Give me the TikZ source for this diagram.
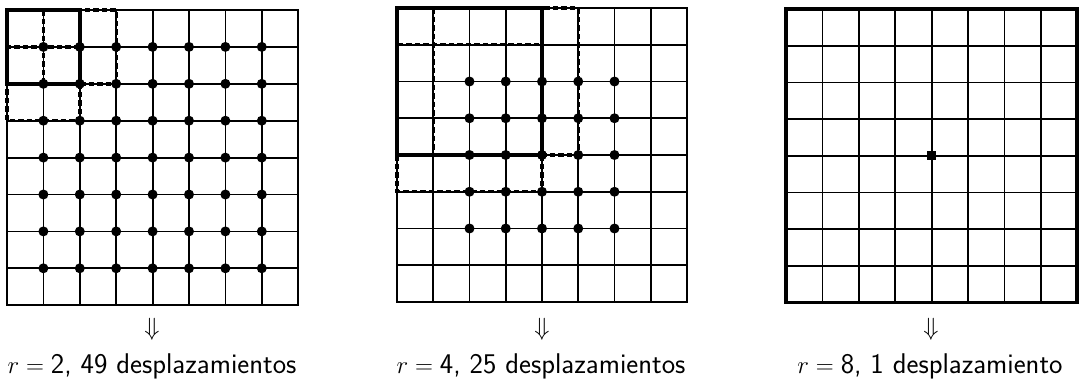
\documentclass[tikz,border=0pt]{standalone}
\usepackage{fontspec}
\tikzset{
  gridline/.style={line width=1.8pt, black},
  winsolid/.style={line width=3.4pt, black, line cap=square},
  windash/.style={line width=3.4pt, black, dash pattern=on 5.5pt off 3pt},
  outline/.style={line width=3.6pt, black, line cap=square},
  dotmark/.style={fill=black},
  lab/.style={font=\fontsize{28.5}{32}\selectfont\sffamily, anchor=base, inner sep=0pt},
  arr/.style={font=\fontsize{32}{34}\selectfont, inner sep=0pt}
}
\begin{document}
\begin{tikzpicture}[x=1pt,y=-1pt]
\useasboundingbox (0,0) rectangle (1081,380);
\fill[white] (0,0) rectangle (1081,380);
% ---------- grid 1 : r = 2 ----------
\begin{scope}[shift={(7,10)}, x=36.4pt, y=-36.9pt]
  \foreach \i in {0,...,8} {
    \draw[gridline] (\i,0) -- (\i,8);
    \draw[gridline] (0,\i) -- (8,\i);
  }
  \draw[windash] (1,0) rectangle (3,2);
  \draw[windash] (0,1) rectangle (2,3);
  \draw[winsolid] (0,0) rectangle (2,2);
  \draw[line width=2pt] (0,0) rectangle (8,8);
  \foreach \i in {1,...,7} \foreach \j in {1,...,7}
    \fill[dotmark] (\i,\j) circle (5pt);
\end{scope}
% ---------- grid 2 : r = 4 ----------
\begin{scope}[shift={(397,8)}, x=36.25pt, y=-36.75pt]
  \foreach \i in {0,...,8} {
    \draw[gridline] (\i,0) -- (\i,8);
    \draw[gridline] (0,\i) -- (8,\i);
  }
  \draw[windash] (1,0) rectangle (5,4);
  \draw[windash] (0,1) rectangle (4,5);
  \draw[winsolid] (0,0) rectangle (4,4);
  \draw[line width=2pt] (0,0) rectangle (8,8);
  \foreach \i in {2,...,6} \foreach \j in {2,...,6}
    \fill[dotmark] (\i,\j) circle (5pt);
\end{scope}
% ---------- grid 3 : r = 8 ----------
\begin{scope}[shift={(786,9)}, x=36.4pt, y=-36.7pt]
  \foreach \i in {1,...,7} {
    \draw[gridline] (\i,0) -- (\i,8);
    \draw[gridline] (0,\i) -- (8,\i);
  }
  \draw[outline] (0,0) rectangle (8,8);
  \fill[dotmark] (4,4) ++(-4.5pt,-4.5pt) rectangle ++(9pt,9pt);
\end{scope}
% ---------- arrows and labels ----------
\node[arr] (a1) at (152,329) {$\Downarrow$};
\node[arr] (a2) at (542,329) {$\Downarrow$};
\node[arr] (a3) at (931,329) {$\Downarrow$};
\node[lab] (l1) at (152,373) {$r={}$2, 49 desplazamientos};
\node[lab] (l2) at (541,373) {$r={}$4, 25 desplazamientos};
\node[lab] (l3) at (930,373) {$r={}$8, 1 desplazamiento};
\end{tikzpicture}
\end{document}
